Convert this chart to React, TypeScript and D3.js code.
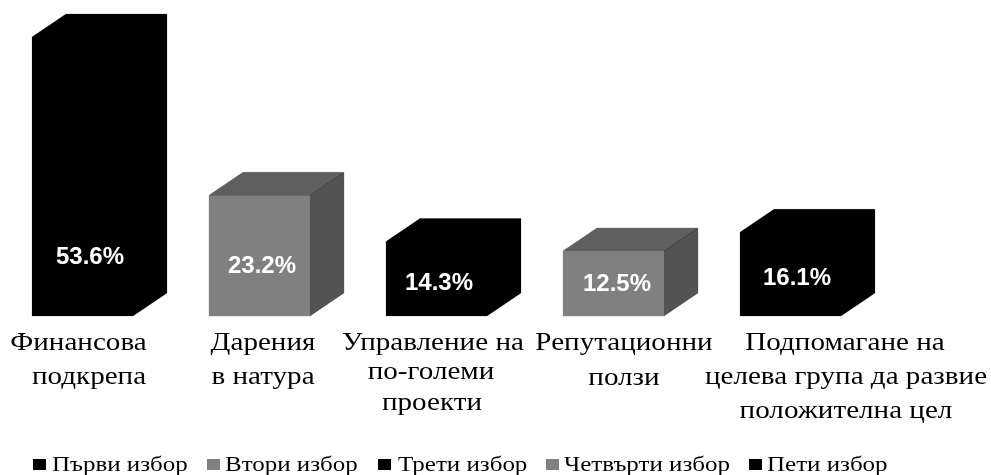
import React from "react";
import * as d3 from "d3";

const categories = ["Финансова подкрепа", "Дарения в натура", "Управление на по-големи проекти", "Репутационни ползи", "Подпомагане на целева група да развие положителна цел"];
const values = [53.6, 23.2, 14.3, 12.5, 16.1];
const seriesNames = ["Първи избор", "Втори избор", "Трети избор", "Четвърти избор", "Пети избор"];
const categoryLines = [
  ["Финансова", "подкрепа"],
  ["Дарения", "в натура"],
  ["Управление на", "по-големи", "проекти"],
  ["Репутационни", "ползи"],
  ["Подпомагане на", "целева група да развие", "положителна цел"],
];

// layout only
const W = 991, H = 475;
const baseY = 316, pxPerPct = 5.205;
const depthX = 34, depthY = 23;
const barW = 101;
const kinds = ["black", "gray", "black", "gray", "black"];
const face: Record<string, { front: string; top: string; side: string }> = {
  black: { front: "#000", top: "#000", side: "#000" },
  gray: { front: "#808080", top: "#5f5f5f", side: "#525252" },
};
const legendSwatch: Record<string, string> = { black: "#000", gray: "#808080" };
const valueBaselines = [264, 273, 290, 291, 285];
const valueCx = [90, 262, 439, 617, 797];
const labelCx = [[78.5, 89], [263, 263], [433, 431, 432], [624, 624], [845, 846, 846]];
const labelBaselines = [[350, 384], [350, 384], [350, 379, 410], [350, 385], [350, 384, 418]];
const legendSwatchX = [33, 207, 378, 546, 749];
const legendTextX = [52, 225, 398, 564, 767];

export default function App() {
  const x = d3.scaleBand<number>().domain(d3.range(values.length)).range([-6, -6 + 177 * 5]);
  const left = (i: number) => (x(i) as number) + 38;
  const y = d3.scaleLinear().domain([0, 100]).range([baseY, baseY - pxPerPct * 100]);
  const pts = (p: [number, number][]) => d3.line()(p) + "Z";
  const edge = "#cfcfcf";
  return (
    <svg width={W} height={H} viewBox={`0 0 ${W} ${H}`} style={{ position: "absolute", left: 0, top: 0, background: "#fff" }}>
      <defs>
        <filter id="soft" x="-2%" y="-2%" width="104%" height="104%"><feGaussianBlur stdDeviation="0.45" /></filter>
      </defs>
      <g filter="url(#soft)">
        {values.map((v, i) => {
          const l = left(i), r = l + barW, t = y(v), f = face[kinds[i]];
          return (
            <g key={categories[i]}>
              <path d={pts([[l, t], [l + depthX, t - depthY], [r + depthX, t - depthY], [r + depthX, baseY - depthY], [r, baseY], [l, baseY]])} fill="#000" stroke={edge} strokeWidth={0.9} />
              <path d={pts([[l, t], [l + depthX, t - depthY], [r + depthX, t - depthY], [r, t]])} fill={f.top} />
              <path d={pts([[r, t], [r + depthX, t - depthY], [r + depthX, baseY - depthY], [r, baseY]])} fill={f.side} />
              <rect x={l} y={t} width={barW} height={baseY - t} fill={f.front} />
              <text x={valueCx[i]} y={valueBaselines[i]} textAnchor="middle" fill="#fff" fontFamily="'Liberation Sans', Arial, sans-serif" fontWeight={700} fontSize={24}>
                {d3.format(".1f")(v)}%
              </text>
            </g>
          );
        })}
        {categoryLines.map((lines, i) =>
          lines.map((ln, k) => (
            <text key={ln} transform={`translate(${labelCx[i][k]},${labelBaselines[i][k]}) scale(1.12,1)`} textAnchor="middle" fill="#000" fontFamily="'Liberation Serif', 'Times New Roman', serif" fontSize={26}>
              {ln}
            </text>
          ))
        )}
        {seriesNames.map((s, i) => (
          <g key={s}>
            <rect x={legendSwatchX[i]} y={459} width={13} height={11} fill={legendSwatch[kinds[i]]} />
            <text transform={`translate(${legendTextX[i]},470.5) scale(1.25,1)`} fill="#000" fontFamily="'Liberation Serif', 'Times New Roman', serif" fontSize={20}>{s}</text>
          </g>
        ))}
      </g>
    </svg>
  );
}
